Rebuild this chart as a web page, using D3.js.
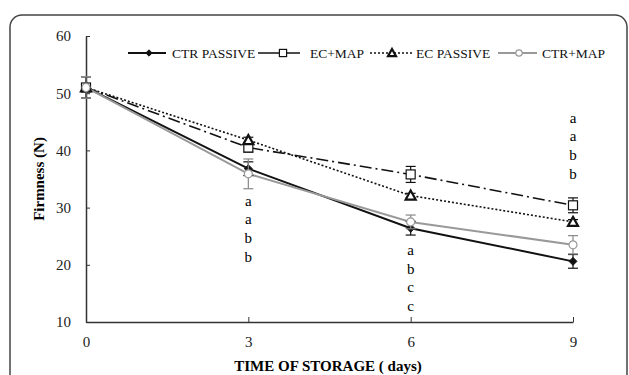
<!DOCTYPE html>
<html>
<head>
<meta charset="utf-8">
<script src="https://cdn.jsdelivr.net/npm/d3@7"></script>
<style>
  body { margin: 0; background: #fff; }
  svg { display: block; font-family: "Liberation Serif", "DejaVu Serif", serif; }
  .axis path, .axis line { stroke: #333; }
  .axis text { font-size: 15px; fill: #222; font-family: "Liberation Serif", serif; }
</style>
</head>
<body>
<svg class="chart" width="629" height="375"></svg>
<script>
// storage days
var days = [0, 3, 6, 9];

// firmness (N) per treatment, with error bars
var ctrPassive    = [51.0, 36.8, 26.4, 20.6];
var ctrPassiveErr = [1.9, 1.2, 1.2, 1.2];
var ecMap         = [51.0, 40.5, 35.8, 30.4];
var ecMapErr      = [1.9, 0.8, 1.4, 1.3];
var ecPassive     = [51.0, 41.8, 32.1, 27.5];
var ecPassiveErr  = [1.9, 0.5, 0.4, 0.4];
var ctrMap        = [51.0, 35.9, 27.5, 23.5];
var ctrMapErr     = [1.9, 2.6, 1.2, 1.6];

var yTicks = [10, 20, 30, 40, 50, 60];

// significance letters at days 3, 6, 9 and the value where each column starts
var letterDays = [3, 6, 9];
var letters = [["a", "a", "b", "b"], ["a", "b", "c", "c"], ["a", "a", "b", "b"]];
var letterTop = [31.2, 22.6, 45.7];

var series = [
  {name: "CTR PASSIVE", values: ctrPassive, err: ctrPassiveErr, color: "#111", dash: null, marker: "diamond", width: 2},
  {name: "EC+MAP", values: ecMap, err: ecMapErr, color: "#111", dash: "12,4,2,4", marker: "square", width: 1.6},
  {name: "EC PASSIVE", values: ecPassive, err: ecPassiveErr, color: "#111", dash: "2,2", marker: "triangle", width: 1.6},
  {name: "CTR+MAP", values: ctrMap, err: ctrMapErr, color: "#999", dash: null, marker: "circle", width: 2}
];

var svg = d3.select(".chart");

// outer frame
svg.append("rect")
    .attr("x", 10).attr("y", 15)
    .attr("width", 617).attr("height", 400)
    .attr("rx", 12)
    .attr("fill", "none")
    .attr("stroke", "#444")
    .attr("stroke-width", 1.5);

var x = d3.scaleLinear().domain([0, 9]).range([86, 573]);
var y = d3.scaleLinear().domain([10, 60]).range([322, 36]);

svg.append("g")
    .attr("class", "x axis")
    .attr("transform", "translate(0," + y(10) + ")")
    .call(d3.axisBottom(x).tickValues(days).tickSizeInner(-5).tickSizeOuter(0).tickPadding(14))
    .call(function(g) { g.select(".domain").attr("stroke-width", 1.5); });

svg.append("g")
    .attr("class", "y axis")
    .attr("transform", "translate(" + x(0) + ",0)")
    .call(d3.axisLeft(y).tickValues(yTicks).tickSizeInner(-4).tickSizeOuter(0).tickPadding(15))
    .call(function(g) { g.select(".domain").attr("stroke-width", 1.5); });

svg.append("text")
    .attr("transform", "translate(44," + (y(35)) + ") rotate(-90)")
    .style("text-anchor", "middle")
    .style("font-weight", "bold")
    .style("font-size", "15px")
    .text("Firmness (N)");

svg.append("text")
    .attr("x", 328).attr("y", 371)
    .style("text-anchor", "middle")
    .style("font-weight", "bold")
    .style("font-size", "15px")
    .text("TIME OF STORAGE ( days)");

var line = d3.line()
    .x(function(d, i) { return x(days[i]); })
    .y(function(d) { return y(d); });

function drawMarker(g, type, color, k) {
  k = k || 1;
  if (type === "diamond") {
    g.append("path").attr("d", d3.symbol(d3.symbolDiamond2, 40 * k * k)()).attr("fill", color).attr("stroke", color);
  } else if (type === "square") {
    g.append("rect").attr("x", -4.5 * k).attr("y", -4.5 * k).attr("width", 9 * k).attr("height", 9 * k)
      .attr("fill", "#fff").attr("stroke", color).attr("stroke-width", 1.2);
  } else if (type === "triangle") {
    g.append("path").attr("d", "M0," + (-5 * k) + "L" + (5 * k) + "," + (4 * k) + "L" + (-5 * k) + "," + (4 * k) + "Z")
      .attr("fill", "#fff").attr("stroke", color).attr("stroke-width", 2.2);
  } else {
    g.append("circle").attr("r", 4 * k).attr("fill", "#fff").attr("stroke", color).attr("stroke-width", 1.2);
  }
}

// lines
series.forEach(function(s) {
  svg.append("path")
      .datum(s.values)
      .attr("fill", "none")
      .attr("stroke", s.color)
      .attr("stroke-width", s.width)
      .attr("stroke-dasharray", s.dash)
      .attr("d", line);
});

// error bars and markers
series.forEach(function(s) {
  var g = svg.append("g");
  s.values.forEach(function(v, i) {
    var cx = x(days[i]);
    var eg = g.append("g").attr("stroke", s.color === "#999" ? "#888" : "#111").attr("stroke-width", 1.2);
    eg.append("line").attr("x1", cx).attr("x2", cx).attr("y1", y(v - s.err[i])).attr("y2", y(v + s.err[i]));
    eg.append("line").attr("x1", cx - 5).attr("x2", cx + 5).attr("y1", y(v - s.err[i])).attr("y2", y(v - s.err[i]));
    eg.append("line").attr("x1", cx - 5).attr("x2", cx + 5).attr("y1", y(v + s.err[i])).attr("y2", y(v + s.err[i]));
    drawMarker(g.append("g").attr("transform", "translate(" + cx + "," + y(v) + ")"), s.marker, s.color);
  });
});

// significance letters
letterDays.forEach(function(d, j) {
  svg.append("g").selectAll("text")
      .data(letters[j])
    .enter().append("text")
      .attr("x", x(d))
      .attr("y", function(l, k) { return y(letterTop[j]) + k * 18.6 + 5; })
      .style("text-anchor", "middle")
      .style("font-size", "15px")
      .attr("fill", "#000")
      .text(function(l) { return l; });
});

// legend: sample line start, line length, marker offset, text start
var legendX = [128, 258, 370, 498];
var legendLen = [38, 42, 43, 39];
var legendMark = [21, 25, 22, 21];
var legendText = [172, 310, 416, 542];

var legend = svg.selectAll(".legend")
    .data(series)
  .enter().append("g")
    .attr("class", "legend")
    .attr("transform", "translate(0,53)");

legend.append("line")
    .attr("x1", function(d, i) { return legendX[i]; })
    .attr("x2", function(d, i) { return legendX[i] + legendLen[i]; })
    .attr("stroke", function(d) { return d.color; })
    .attr("stroke-width", function(d) { return d.width; })
    .attr("stroke-dasharray", function(d) { return d.marker === "triangle" ? "2,2" : null; });

legend.each(function(d, i) {
  drawMarker(d3.select(this).append("g").attr("transform", "translate(" + (legendX[i] + legendMark[i]) + ",0)"), d.marker, d.color, 0.8);
});

legend.append("text")
    .attr("x", function(d, i) { return legendText[i]; })
    .attr("dy", "0.35em")
    .style("font-size", "13.5px")
    .attr("fill", "#111")
    .text(function(d) { return d.name; });
</script>
</body>
</html>
